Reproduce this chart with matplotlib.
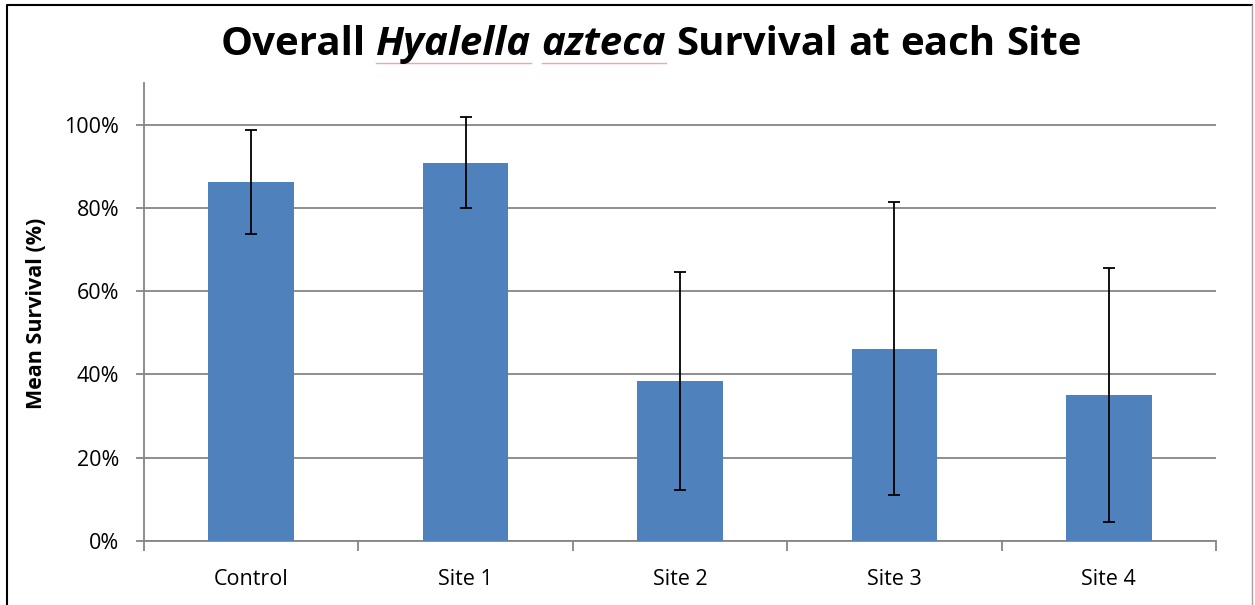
import matplotlib
matplotlib.use("Agg")
import matplotlib.pyplot as plt
from matplotlib.lines import Line2D

plt.rcParams["font.family"] = ["Open Sans", "DejaVu Sans"]

# data
sites = ["Control", "Site 1", "Site 2", "Site 3", "Site 4"]
mean_survival = [0.863, 0.909, 0.385, 0.462, 0.351]
std_err = [0.125, 0.110, 0.262, 0.352, 0.305]
yticks = [0, 0.2, 0.4, 0.6, 0.8, 1.0]
ytick_labels = ["0%", "20%", "40%", "60%", "80%", "100%"]

W, H = 1255, 605
fig = plt.figure(figsize=(W / 100, H / 100), dpi=100)
ax = fig.add_axes([144 / W, 1 - 541 / H, 1072 / W, 458 / H])

x = list(range(len(sites)))
ax.bar(x, mean_survival, width=0.4, color="#4F81BD", zorder=3)
ax.errorbar(x, mean_survival, yerr=std_err, fmt="none", ecolor="black",
            elinewidth=1.3, capsize=4.5, capthick=1.3, zorder=4)

ax.set_xlim(-0.5, len(sites) - 0.5)
ax.set_ylim(0, 1.1)
ax.set_yticks(yticks)
ax.set_yticklabels(ytick_labels, fontsize=15.5)
ax.yaxis.grid(True, color="#868686", linewidth=1.3, zorder=0)

# ticks on category boundaries, labels in the middle
ax.set_xticks([i - 0.5 for i in range(len(sites) + 1)])
ax.set_xticklabels([])
ax.set_xticks(x, minor=True)
ax.set_xticklabels(sites, minor=True, fontsize=15.5)
ax.tick_params(axis="x", which="major", length=7, width=1.3, color="#868686")
ax.tick_params(axis="x", which="minor", length=0, pad=20)
ax.tick_params(axis="y", length=6, width=1.3, color="#868686", pad=12)

for s in ["top", "right"]:
    ax.spines[s].set_visible(False)
for s in ["left", "bottom"]:
    ax.spines[s].set_color("#868686")
    ax.spines[s].set_linewidth(1.3)

fig.text(37 / W, 1 - 313 / H, "Mean Survival (%)", rotation=90, fontsize=15.5,
         fontweight="bold", ha="center", va="center")

# title with italic species name
pieces = [("Overall", "normal"), ("Hyalella", "italic"), ("azteca", "italic"),
          ("Survival", "normal"), ("at", "normal"), ("each", "normal"), ("Site", "normal")]
title_size = 29
renderer = fig.canvas.get_renderer()
a = fig.text(0, 0, "a b", fontsize=title_size, fontweight="bold")
b = fig.text(0, 0, "ab", fontsize=title_size, fontweight="bold")
space = a.get_window_extent(renderer).width - b.get_window_extent(renderer).width
a.remove()
b.remove()

texts = []
widths = []
for word, style in pieces:
    t = fig.text(0, 1 - 55 / H, word, fontsize=title_size, fontweight="bold",
                 fontstyle=style, va="baseline", ha="left")
    texts.append(t)
    widths.append(t.get_window_extent(renderer).width)
total = sum(widths) + space * (len(pieces) - 1)
xpos = 651 - total / 2
for t, w, (word, style) in zip(texts, widths, pieces):
    t.set_x(xpos / W)
    if style == "italic":
        fig.add_artist(Line2D([xpos / W, (xpos + w) / W], [1 - 63 / H, 1 - 63 / H],
                              color="#F4A6A6", linewidth=1, transform=fig.transFigure))
    xpos += w + space

# frame around the chart area
fig.add_artist(Line2D([7 / W, 7 / W, 1252 / W], [0, 1 - 5 / H, 1 - 5 / H],
                      color="black", linewidth=1.5, transform=fig.transFigure))
fig.add_artist(Line2D([1252 / W, 1252 / W], [0, 1 - 5 / H],
                      color="#A0A0A0", linewidth=1, transform=fig.transFigure))

fig.savefig("out.png", dpi=100)
